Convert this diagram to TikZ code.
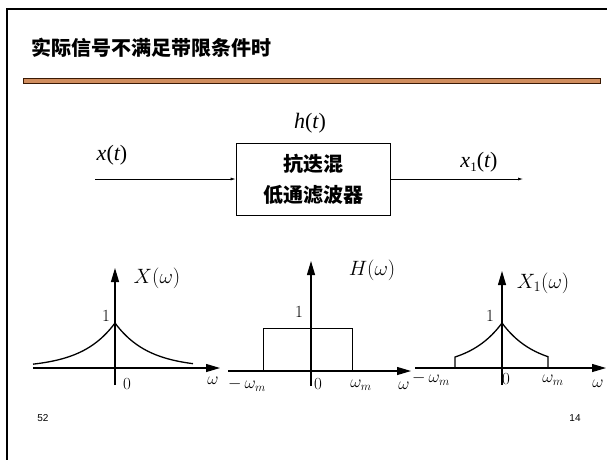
\documentclass[tikz,border=0pt]{standalone}
\usepackage{fontspec}
\newfontfamily\cjk{Noto Sans CJK SC}
\newfontfamily\tnr{Liberation Serif}
\newfontfamily\arial{Liberation Sans}
\usetikzlibrary{arrows.meta}
\definecolor{barfill}{HTML}{D08D5E}
\definecolor{bardraw}{HTML}{3A1A05}
\newcommand{\tv}[1]{{\tnr\itshape #1}}
\newcommand{\tp}[1]{{\tnr #1}}
\begin{document}
\begin{tikzpicture}[x=1pt,y=-1pt,
  axis/.style={line width=1.1pt,-{Triangle[length=14pt,width=8pt]}},
  curve/.style={line width=1.3pt},
  sig/.style={line width=0.7pt,-{Latex[length=5pt,width=3pt]}},
  lbl/.style={inner sep=0pt,font=\fontsize{17}{19}\selectfont},
  fn/.style={inner sep=0pt,font=\fontsize{20}{22}\selectfont},
  tl/.style={inner sep=0pt,font=\fontsize{22}{24}\selectfont},
  blk/.style={draw,line width=0.8pt,minimum width=154pt,minimum height=72pt,align=center,font=\cjk\bfseries\fontsize{20}{31}\selectfont}]
\useasboundingbox (0,0) rectangle (607,459);
% frame
\draw[line width=2.5pt] (7,460) -- (7,9) -- (608,9);
% title
\node[anchor=west,inner sep=0pt,font=\cjk\bfseries\fontsize{20}{22}\selectfont] (title) at (31,48) {实际信号不满足带限条件时};
\draw[fill=barfill,draw=bardraw,line width=0.8pt] (23,78) rectangle (600,83);
% block diagram
\node[blk] (filt) at (313,179) {抗迭混\\低通滤波器};
\coordinate (in) at (95,179);
\coordinate (out) at (523,179);
\draw[sig] (in) -- (filt.west);
\draw[sig] (filt.east) -- (out);
\node[tl] (ht) at (310,123) {\tv{h}\tp{(}\tv{t}\tp{)}};
\node[tl] (xt) at (112,155) {\tv{x}\tp{(}\tv{t}\tp{)}};
\node[tl] (x1t) at (479,162) {\tv{x}\raisebox{-4pt}{\fontsize{13}{14}\selectfont\tp{1}}\tp{(}\tv{t}\tp{)}};
% graph 1
\coordinate (a1l) at (33,368); \coordinate (a1r) at (220,368);
\coordinate (v1b) at (115,385); \coordinate (v1t) at (115,268);
\draw[axis] (a1l) -- (a1r);
\draw[axis] (v1b) -- (v1t);
\draw[curve] plot[domain=-82:0,samples=50] ({115+\x},{368-45*exp(0.03*\x)});
\draw[curve] plot[domain=0:78,samples=50] ({115+\x},{368-45*exp(-0.03*\x)});
\node[fn] (X1) at (157,278) {$X(\omega)$};
\node[lbl] (one1) at (106,316) {1};
\node[lbl] (z1) at (127,384) {0};
\node[lbl] (w1) at (213,381) {$\omega$};
% graph 2
\coordinate (a2l) at (228,371); \coordinate (a2r) at (411,371);
\coordinate (v2b) at (311,386); \coordinate (v2t) at (311,261);
\draw[axis] (a2l) -- (a2r);
\draw[axis] (v2b) -- (v2t);
\draw[line width=0.9pt] (263,371) -- (263,328) -- (352,328) -- (352,371);
\node[fn] (H) at (372,270) {$H(\omega)$};
\node[lbl] (one2) at (299,312) {1};
\node[lbl] (m2) at (247,385) {$-\,\omega_m$};
\node[lbl] (z2) at (318,384) {0};
\node[lbl] (p2) at (361,385) {$\omega_m$};
\node[lbl] (w2) at (404,386) {$\omega$};
% graph 3
\coordinate (a3l) at (415,368); \coordinate (a3r) at (606,368);
\coordinate (v3b) at (502,385); \coordinate (v3t) at (502,271);
\draw[axis] (a3l) -- (a3r);
\draw[axis] (v3b) -- (v3t);
\draw[curve] (455,368) -- plot[domain=-47:0,samples=40] ({502+\x},{368-45*exp(0.03*\x)});
\draw[curve] plot[domain=0:46,samples=40] ({502+\x},{368-45*exp(-0.03*\x)}) -- (548,368);
\node[fn] (X1w) at (543,283) {$X_1(\omega)$};
\node[lbl] (one3) at (490,316) {1};
\node[lbl] (m3) at (431,379) {$-\,\omega_m$};
\node[lbl] (z3) at (506,379) {0};
\node[lbl] (p3) at (553,380) {$\omega_m$};
\node[lbl] (w3) at (598,384) {$\omega$};
% page numbers
\node[inner sep=0pt,font=\arial\fontsize{10}{12}\selectfont] (pg1) at (43,418) {52};
\node[inner sep=0pt,font=\arial\fontsize{10}{12}\selectfont] (pg2) at (575,418) {14};
\end{tikzpicture}
\end{document}
